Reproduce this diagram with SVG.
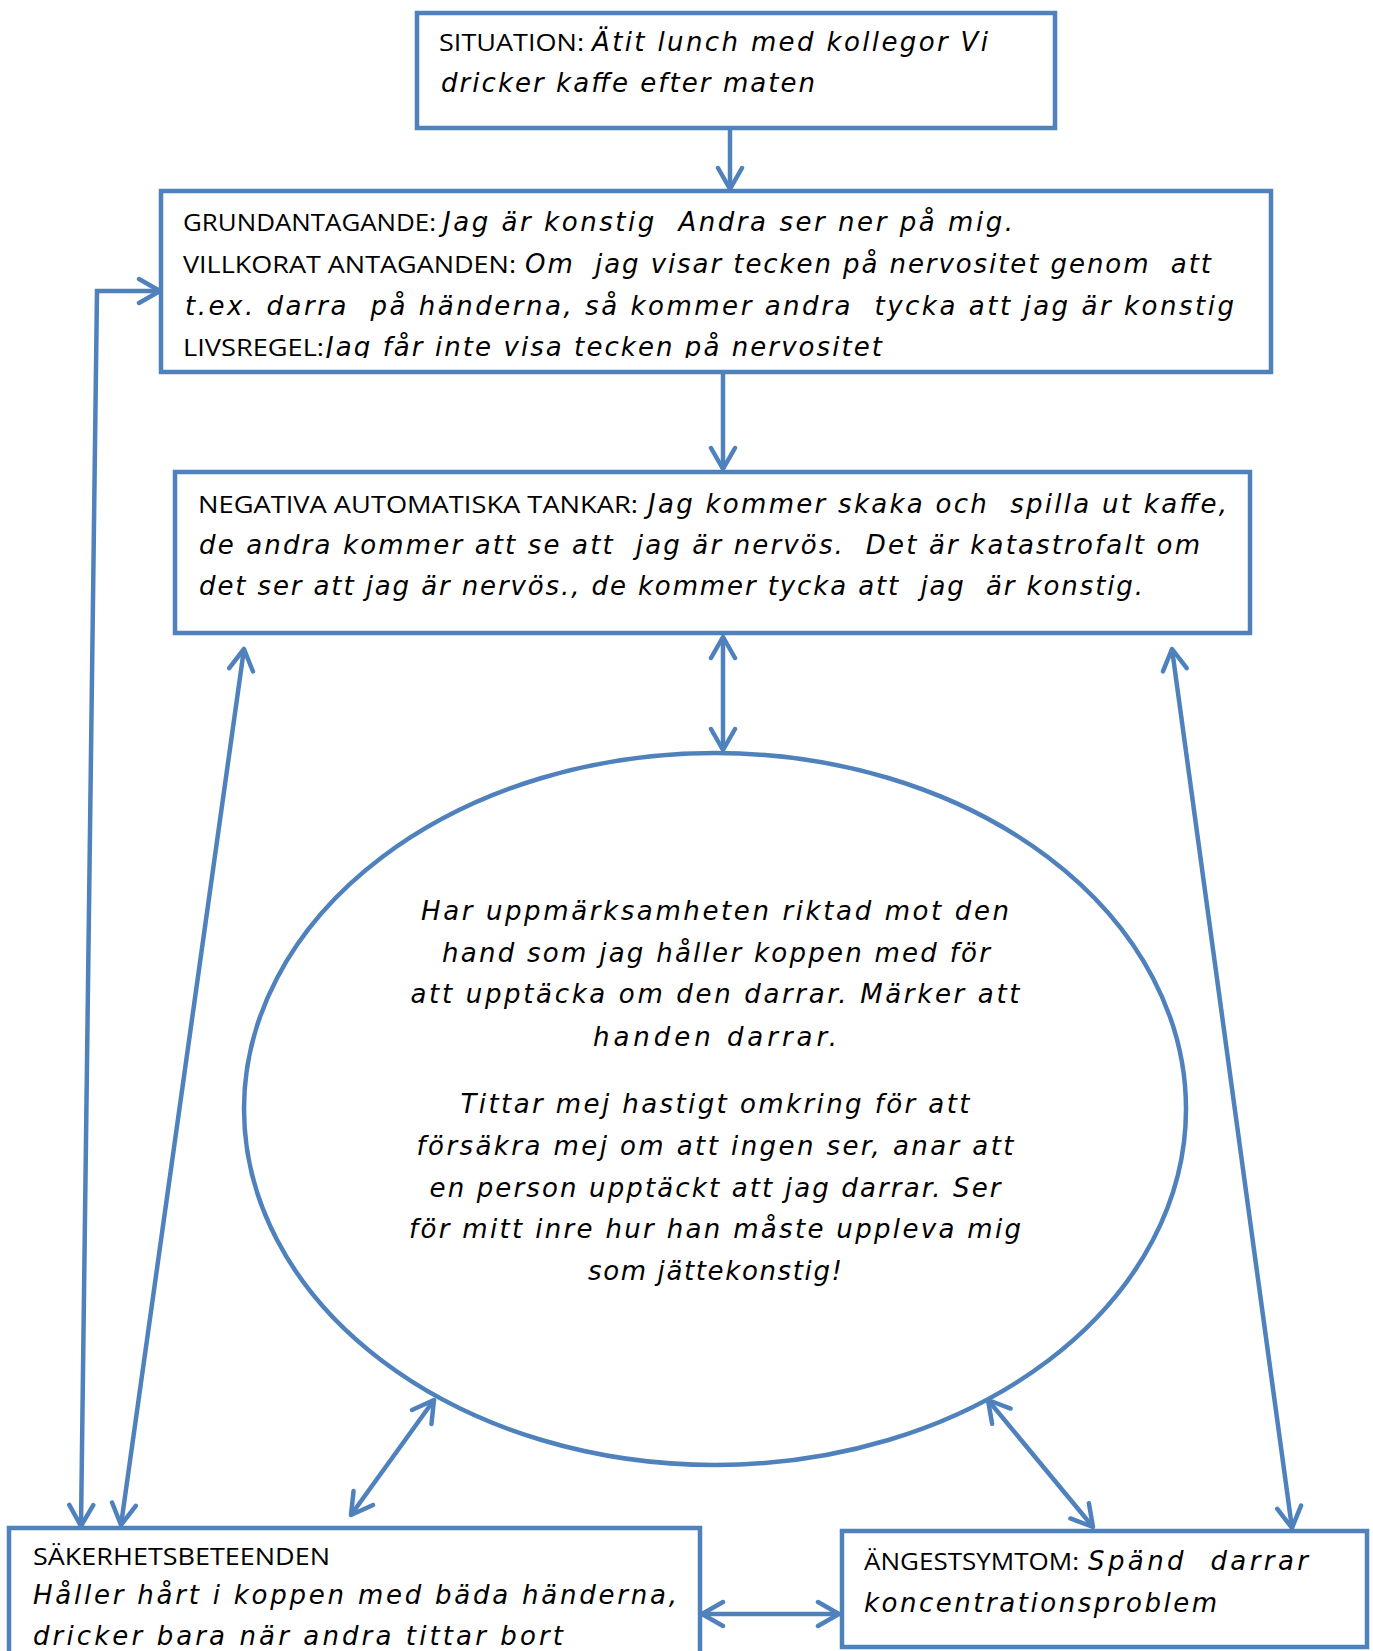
<svg xmlns="http://www.w3.org/2000/svg" width="1373" height="1651" viewBox="0 0 1373 1651">
<style>
.box{fill:#fff;stroke:#4F81BD;stroke-width:4.5}
.ell{fill:#fff;stroke:#4F81BD;stroke-width:4.5}
.con{fill:none;stroke:#4F81BD;stroke-width:4.5}
.lab{font-family:"Open Sans","Liberation Sans",sans-serif;font-size:24px;fill:#000}
.it{font-family:"DejaVu Sans","Liberation Sans",sans-serif;font-style:italic;font-size:26px;fill:#000}
</style>
<defs>
<marker id="ah" markerUnits="userSpaceOnUse" markerWidth="30" markerHeight="30" viewBox="0 0 30 30" refX="24" refY="15" orient="auto-start-reverse">
<path d="M3,3 L24,15 L3,27" fill="none" stroke="#4F81BD" stroke-width="4.5" stroke-linecap="round" stroke-linejoin="round"/>
</marker>
<clipPath id="gclip"><rect x="161" y="191" width="1110" height="167"/></clipPath>
</defs>
<rect width="1373" height="1651" fill="#fff"/>

<g id="connectors">
<line class="con" x1="730" y1="128" x2="730" y2="189" marker-end="url(#ah)"/>
<line class="con" x1="723" y1="372" x2="723" y2="469" marker-end="url(#ah)"/>
<line class="con" x1="723" y1="637" x2="723" y2="750" marker-start="url(#ah)" marker-end="url(#ah)"/>
<path class="con" d="M81,1526 L97,291 L160,291" marker-start="url(#ah)" marker-end="url(#ah)"/>
<line class="con" x1="244" y1="649" x2="121" y2="1525" marker-start="url(#ah)" marker-end="url(#ah)"/>
<line class="con" x1="434" y1="1400" x2="351" y2="1515" marker-start="url(#ah)" marker-end="url(#ah)"/>
<line class="con" x1="988" y1="1400" x2="1093" y2="1527" marker-start="url(#ah)" marker-end="url(#ah)"/>
<line class="con" x1="1172" y1="649" x2="1292" y2="1528" marker-start="url(#ah)" marker-end="url(#ah)"/>
<line class="con" x1="702" y1="1614" x2="839" y2="1614" marker-start="url(#ah)" marker-end="url(#ah)"/>
</g>

<g id="situation">
<rect class="box" x="417" y="13" width="638" height="115"/>
<text class="lab" x="439" y="51" textLength="145" lengthAdjust="spacingAndGlyphs">SITUATION:</text>
<text class="it" x="592" y="51" textLength="396" lengthAdjust="spacing">Ätit lunch med kollegor Vi</text>
<text class="it" x="441" y="92" textLength="374" lengthAdjust="spacing">dricker kaffe efter maten</text>
</g>

<g id="grundantagande">
<rect class="box" x="161" y="191" width="1110" height="181"/>
<g clip-path="url(#gclip)">
<text class="lab" x="183" y="231" textLength="253" lengthAdjust="spacingAndGlyphs">GRUNDANTAGANDE:</text>
<text class="it" x="443" y="231" textLength="570" lengthAdjust="spacing" xml:space="preserve">Jag är konstig  Andra ser ner på mig.</text>
<text class="lab" x="183" y="273" textLength="333" lengthAdjust="spacingAndGlyphs">VILLKORAT ANTAGANDEN:</text>
<text class="it" x="525" y="273" textLength="686" lengthAdjust="spacing" xml:space="preserve">Om  jag visar tecken på nervositet genom  att</text>
<text class="it" x="185" y="315" textLength="1049" lengthAdjust="spacing" xml:space="preserve">t.ex. darra  på händerna, så kommer andra  tycka att jag är konstig</text>
<text class="lab" x="183" y="356" textLength="141" lengthAdjust="spacingAndGlyphs">LIVSREGEL:</text>
<text class="it" x="326" y="356" textLength="556" lengthAdjust="spacing">Jag får inte visa tecken på nervositet</text>
</g>
</g>

<g id="negativa">
<rect class="box" x="175" y="472" width="1075" height="161"/>
<text class="lab" x="198" y="513" textLength="440" lengthAdjust="spacingAndGlyphs">NEGATIVA AUTOMATISKA TANKAR:</text>
<text class="it" x="648" y="513" textLength="579" lengthAdjust="spacing" xml:space="preserve">Jag kommer skaka och  spilla ut kaffe,</text>
<text class="it" x="199" y="554" textLength="1001" lengthAdjust="spacing" xml:space="preserve">de andra kommer att se att  jag är nervös.  Det är katastrofalt om</text>
<text class="it" x="199" y="595" textLength="944" lengthAdjust="spacing" xml:space="preserve">det ser att jag är nervös., de kommer tycka att  jag  är konstig.</text>
</g>

<g id="fokus">
<ellipse class="ell" cx="715" cy="1109" rx="471" ry="356"/>
<text class="it" x="715" y="920" text-anchor="middle" textLength="588" lengthAdjust="spacing">Har uppmärksamheten riktad mot den</text>
<text class="it" x="716" y="962" text-anchor="middle" textLength="548" lengthAdjust="spacing">hand som jag håller koppen med för</text>
<text class="it" x="715" y="1003" text-anchor="middle" textLength="609" lengthAdjust="spacing">att upptäcka om den darrar. Märker att</text>
<text class="it" x="715" y="1046" text-anchor="middle" textLength="244" lengthAdjust="spacing">handen darrar.</text>
<text class="it" x="715" y="1113" text-anchor="middle" textLength="509" lengthAdjust="spacing">Tittar mej hastigt omkring för att</text>
<text class="it" x="715" y="1155" text-anchor="middle" textLength="597" lengthAdjust="spacing">försäkra mej om att ingen ser, anar att</text>
<text class="it" x="715" y="1197" text-anchor="middle" textLength="571" lengthAdjust="spacing">en person upptäckt att jag darrar. Ser</text>
<text class="it" x="715" y="1238" text-anchor="middle" textLength="612" lengthAdjust="spacing">för mitt inre hur han måste uppleva mig</text>
<text class="it" x="715" y="1280" text-anchor="middle" textLength="254" lengthAdjust="spacing">som jättekonstig!</text>
</g>

<g id="sakerhetsbeteenden">
<rect class="box" x="9" y="1528" width="691" height="160"/>
<text class="lab" x="33" y="1565" textLength="297" lengthAdjust="spacingAndGlyphs">SÄKERHETSBETEENDEN</text>
<text class="it" x="33" y="1604" textLength="644" lengthAdjust="spacing">Håller hårt i koppen med bäda händerna,</text>
<text class="it" x="33" y="1645" textLength="530" lengthAdjust="spacing">dricker bara när andra tittar bort</text>
</g>

<g id="angestsymtom">
<rect class="box" x="842" y="1531" width="525" height="116"/>
<text class="lab" x="864" y="1570" textLength="215" lengthAdjust="spacingAndGlyphs">ÄNGESTSYMTOM:</text>
<text class="it" x="1088" y="1570" textLength="220" lengthAdjust="spacing" xml:space="preserve">Spänd  darrar</text>
<text class="it" x="864" y="1612" textLength="353" lengthAdjust="spacing">koncentrationsproblem</text>
</g>
</svg>
